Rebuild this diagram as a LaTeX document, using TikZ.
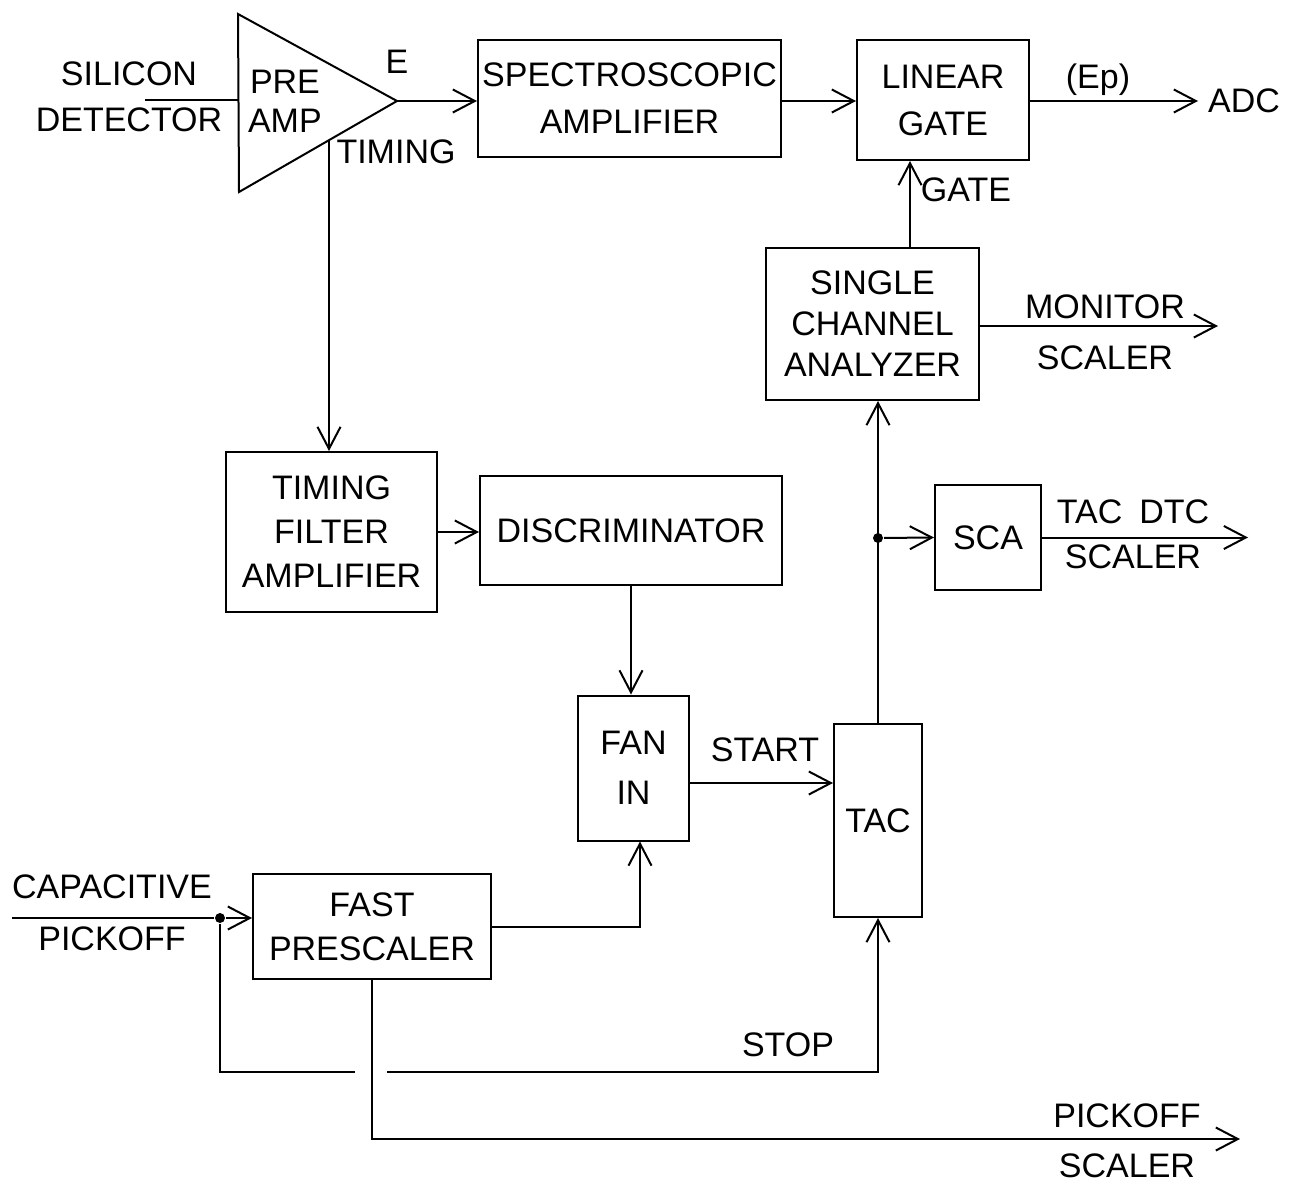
\documentclass[tikz,border=0pt]{standalone}
\usepackage{fontspec}
\setmainfont{Liberation Sans}
\usetikzlibrary{arrows.meta}
\begin{document}
\begin{tikzpicture}[x=0.5pt,y=-0.5pt,line width=1pt,
  font=\fontsize{17}{22}\selectfont,
  blk/.style={draw,line width=1pt,inner sep=0pt,align=center},
  arr/.style={-{Straight Barb[length=11pt,width=11.5pt,line width=1pt]}},
  lbl/.style={inner sep=0pt,align=center},
  jdot/.style={circle,fill,inner sep=0pt,minimum size=5pt}]
\useasboundingbox (0,0) rectangle (1306,1183);
% ---- pre-amplifier triangle
\coordinate (paA) at (238,14);
\coordinate (paB) at (239,192);
\coordinate (paout) at (397,101);
\coordinate (paL) at (238,100);
\coordinate (sdin) at (145,100);
\coordinate (ptim) at (329,140);
\draw (paA) -- (paout) -- (paB) -- cycle;
\node[lbl,anchor=west] (pre) at (249,82) {PRE};
\node[lbl,anchor=west] (amp) at (247,121) {AMP};
% ---- blocks
\node[blk,minimum width=151.5pt,minimum height=58.5pt,font=\fontsize{17}{23.5}\selectfont] (spec) at (629.5,98.5) {SPECTROSCOPIC\\AMPLIFIER};
\node[blk,minimum width=86pt,minimum height=60pt,font=\fontsize{17}{23.5}\selectfont] (lg) at (943,100) {LINEAR\\GATE};
\node[blk,minimum width=106.5pt,minimum height=76pt,font=\fontsize{17}{20.5}\selectfont] (sca1) at (872.5,324) {SINGLE\\CHANNEL\\ANALYZER};
\node[blk,minimum width=105.5pt,minimum height=80pt,font=\fontsize{17}{22}\selectfont] (tfa) at (331.5,532) {TIMING\\FILTER\\AMPLIFIER};
\node[blk,minimum width=151pt,minimum height=54.5pt] (disc) at (631,530.5) {DISCRIMINATOR};
\node[blk,minimum width=55.5pt,minimum height=72.5pt,font=\fontsize{17}{25}\selectfont] (fan) at (633.5,768) {FAN\\IN};
\node[blk,minimum width=44pt,minimum height=96.5pt] (tac) at (878,820.5) {TAC};
\node[blk,minimum width=53pt,minimum height=52.5pt] (sca2) at (988,537.5) {SCA};
\node[blk,minimum width=119pt,minimum height=52.5pt,font=\fontsize{17}{22}\selectfont] (fp) at (372,926.5) {FAST\\PRESCALER};
% ---- labels
\node[lbl,font=\fontsize{17}{23}\selectfont] (silicon) at (129,97) {SILICON\\DETECTOR};
\node[lbl] (elbl) at (397,62) {E};
\node[lbl] (timlbl) at (396,152) {TIMING};
\node[lbl] (eplbl) at (1098,80) {(Ep)};
\node[lbl] (adc) at (1244,101) {ADC};
\node[lbl] (gatelbl) at (966,190) {GATE};
\node[lbl,font=\fontsize{17}{25.5}\selectfont] (monlbl) at (1105,332) {MONITOR\\SCALER};
\node[lbl,font=\fontsize{17}{22.5}\selectfont] (tdlbl) at (1133,534) {TAC\enspace DTC\\SCALER};
\node[lbl] (startlbl) at (765,750) {START};
\node[lbl] (stoplbl) at (788,1045) {STOP};
\node[lbl,font=\fontsize{17}{26}\selectfont] (caplbl) at (112,913) {CAPACITIVE\\PICKOFF};
\node[lbl,font=\fontsize{17}{25}\selectfont] (pklbl) at (1127,1141) {PICKOFF\\SCALER};
% ---- coordinates for connectors
\coordinate (adcend) at (1198,101);
\coordinate (monend) at (1218,326);
\coordinate (tdend) at (1248,537.5);
\coordinate (gx) at (910,0);
\coordinate (fx) at (640,0);
\coordinate (cpin) at (12,918);
\coordinate (gapL) at (355,1072);
\coordinate (gapR) at (387,1072);
\coordinate (pkend) at (1240,1139);
\node[jdot] (cj) at (220,918) {};
\node[jdot] (jn) at (878,538) {};
% ---- connectors
\draw (sdin) -- (paL);
\draw[arr] (paout) -- (paout -| spec.west);
\draw[arr] (paout -| spec.east) -- (paout -| lg.west);
\draw[arr] (lg.east |- adcend) -- (adcend);
\draw[arr] (ptim) -- (ptim |- tfa.north);
\draw[arr] (tfa.east) -- (tfa.east -| disc.west);
\draw[arr] (disc.south) -- (disc.south |- fan.north);
\draw[arr] ([yshift=-7.5pt]fan.east) -- ([yshift=-7.5pt]fan.east -| tac.west);
\draw[arr] (tac.north) -- (tac.north |- sca1.south);
\draw[arr] (jn) -- (sca2.west);
\draw[arr] (sca2.east) -- (tdend);
\draw[arr] (sca1.north -| gx) -- (lg.south -| gx);
\draw[arr] (sca1.east |- monend) -- (monend);
\draw (cpin) -- (cj);
\draw[arr] (cj) -- (cj -| fp.west);
\draw[arr] (fp.east) -| (fan.south -| fx);
\draw (cj) |- (gapL);
\draw[arr] (gapR) -| (tac.south);
\draw[arr] (fp.south) |- (pkend);
\end{tikzpicture}
\end{document}
